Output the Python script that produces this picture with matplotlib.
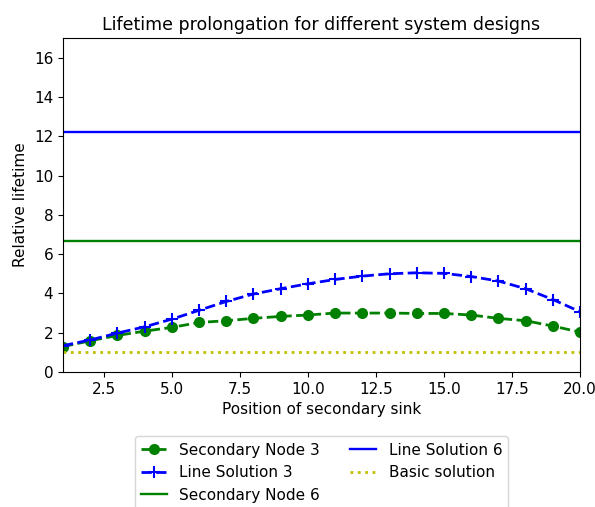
import matplotlib
matplotlib.use("Agg")
import matplotlib.pyplot as plt

# position of secondary sink
pos = list(range(1, 21))

sec_node_3 = [1.29, 1.59, 1.86, 2.08, 2.27, 2.52, 2.61, 2.73, 2.83, 2.90,
              3.00, 3.00, 3.00, 2.98, 2.98, 2.90, 2.73, 2.61, 2.34, 2.03]
line_sol_3 = [1.34, 1.63, 1.98, 2.30, 2.69, 3.14, 3.59, 3.97, 4.24, 4.49,
              4.71, 4.88, 5.00, 5.05, 5.02, 4.86, 4.63, 4.24, 3.69, 3.07]
sec_node_6 = 6.65
line_sol_6 = 12.2
basic = 1.0

fig = plt.figure(figsize=(5.95, 5.07), dpi=100)
ax = fig.add_axes([63/595, 1 - 372/507, 517/595, 334/507])

ax.plot(pos, sec_node_3, "go--", label="Secondary Node 3", markersize=7, linewidth=2)
ax.plot(pos, line_sol_3, "b+--", label="Line Solution 3", markersize=8, linewidth=2, markeredgewidth=1.5)
ax.axhline(sec_node_6, color="g", linewidth=1.7, label="Secondary Node 6")
ax.axhline(line_sol_6, color="b", linewidth=1.7, label="Line Solution 6")
ax.axhline(basic, color="y", linestyle=":", linewidth=2, label="Basic solution")

ax.set_xlim(1, 20)
ax.set_ylim(0, 17)
ax.set_title("Lifetime prolongation for different system designs", fontsize=12.5)
ax.set_xlabel("Position of secondary sink", fontsize=11)
ax.set_ylabel("Relative lifetime", fontsize=11)
ax.tick_params(labelsize=11)

ax.legend(loc="upper center", bbox_to_anchor=(0.5, -0.17), ncol=2, fontsize=11,
          handlelength=1.7)

plt.savefig("out.png", dpi=100)
